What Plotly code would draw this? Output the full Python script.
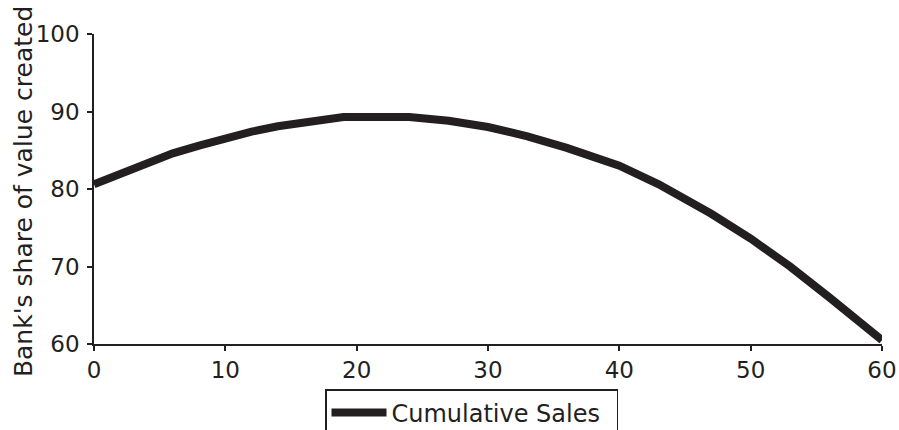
import plotly.graph_objects as go

# Cumulative sales (x) and the bank's share of value created (y, %)
cumulative_sales = [0, 2, 4, 6, 8, 10, 12, 14, 16, 17, 19, 24, 27, 30, 33, 36, 40, 43, 47, 50, 53, 56, 60]
bank_share = [80.6, 82.0, 83.4, 84.6, 85.6, 86.6, 87.4, 88.1, 88.6, 88.9, 89.3, 89.3, 88.8, 88.0,
              86.8, 85.3, 83.0, 80.6, 76.8, 73.6, 70.0, 66.0, 60.5]

x_ticks = [0, 10, 20, 30, 40, 50, 60]
y_ticks = [60, 70, 80, 90, 100]
y_title = "Bank's share of value created"

INK = "#231f20"
FONT = "DejaVu Sans"

fig = go.Figure()
fig.add_trace(go.Scatter(
    x=cumulative_sales,
    y=bank_share,
    mode="lines",
    name="Cumulative Sales",
    line=dict(color=INK, width=8, shape="linear"),
))

# vertical axis title placed beside the tick labels
fig.add_annotation(
    text=y_title,
    textangle=-90,
    xref="paper", yref="paper",
    x=(23 - 94) / 788, xanchor="center",
    y=0.49, yanchor="middle",
    showarrow=False,
    font=dict(family=FONT, size=25, color=INK),
)

fig.update_layout(
    width=899,
    height=430,
    margin=dict(l=94, r=17, t=34, b=86, autoexpand=False),
    paper_bgcolor="white",
    plot_bgcolor="white",
    font=dict(family=FONT, size=23, color=INK),
    showlegend=True,
    legend=dict(
        orientation="h",
        xref="container", yref="container",
        x=325 / 899, xanchor="left",
        y=1 - 389 / 430, yanchor="top",
        bordercolor=INK, borderwidth=1.5,
        bgcolor="white",
        font=dict(family=FONT, size=24, color=INK),
        itemwidth=55,
        entrywidth=220,
    ),
    xaxis=dict(
        range=[0, 60],
        tickvals=x_ticks,
        ticktext=[str(v) for v in x_ticks],
        showgrid=False, zeroline=False,
        showline=True, linecolor=INK, linewidth=1.5,
        ticks="outside", ticklen=5, tickwidth=1.5, tickcolor=INK,
        ticklabelstandoff=0,
        tickfont=dict(family=FONT, size=23, color=INK),
        automargin=False,
    ),
    yaxis=dict(
        range=[60, 100],
        tickvals=y_ticks,
        ticktext=[str(v) for v in y_ticks],
        showgrid=False, zeroline=False,
        showline=True, linecolor=INK, linewidth=1.5,
        ticks="outside", ticklen=5, tickwidth=1.5, tickcolor=INK,
        ticklabelstandoff=3,
        tickfont=dict(family=FONT, size=23, color=INK),
        automargin=False,
    ),
)

fig.write_html("out.html")
